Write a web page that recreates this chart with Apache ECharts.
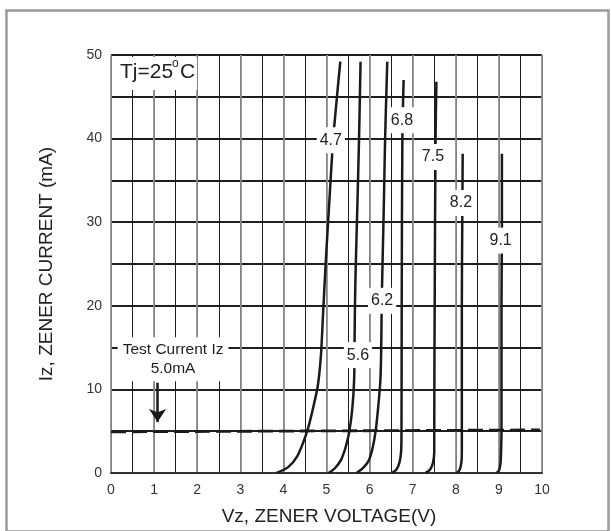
<!DOCTYPE html>
<html>
<head>
<meta charset="utf-8">
<script src="https://cdn.jsdelivr.net/npm/echarts@6/dist/echarts.min.js"></script>
<style>html,body{margin:0;padding:0;background:#fff}#c{width:611px;height:531px}</style>
</head>
<body>
<div id="c"></div>
<script>
// Curves: [Vz (V), Iz (mA)]
const curve47 = [[3.84,0],[4.11,0.7],[4.32,2.0],[4.47,3.8],[4.58,5.5],[4.69,7.8],[4.80,10.5],[4.87,14],[4.92,19],[4.98,25],[5.06,32],[5.13,38],[5.18,41.5],[5.32,49.2]];
const curve56 = [[5.05,0],[5.20,0.6],[5.34,1.6],[5.45,3.2],[5.53,5],[5.60,7.8],[5.64,11],[5.65,15],[5.66,20],[5.68,25],[5.72,32.7],[5.755,40],[5.79,49.2]];
const curve62 = [[5.70,0],[5.85,0.6],[5.98,1.5],[6.07,3.0],[6.14,5],[6.20,7.9],[6.25,11.1],[6.27,15],[6.28,20],[6.30,25],[6.33,32],[6.36,40],[6.41,49.2]];
const curve68 = [[6.51,0],[6.62,0.4],[6.69,1.2],[6.73,2.5],[6.74,5],[6.745,20],[6.76,40],[6.79,47]];
const curve75 = [[7.29,0],[7.40,0.4],[7.47,1.2],[7.50,2.5],[7.50,5],[7.51,20],[7.53,40],[7.55,46.8]];
const curve82 = [[8.02,0],[8.09,0.4],[8.13,1.3],[8.14,2.5],[8.14,5],[8.14,20],[8.15,30],[8.16,38.2]];
const curve91 = [[8.95,0],[9.01,0.4],[9.04,1.3],[9.05,2.5],[9.06,5],[9.06,20],[9.07,30],[9.07,38.2]];
const curves = [curve47, curve56, curve62, curve68, curve75, curve82, curve91];
// Curve labels: [V, I, text]
const curveLabels = [[5.10,39.8,'4.7'],[5.73,14.1,'5.6'],[6.29,20.6,'6.2'],[6.75,42.2,'6.8'],[7.47,37.8,'7.5'],[8.12,32.3,'8.2'],[9.04,27.8,'9.1']];
// Test current line
const testLine = [[0,4.92],[9.95,5.15]];
const arrowFrom = [1.08,10.8];
const arrowTo = [1.08,6.1];
const testLabelPos = [1.44,13.6];
const xTicks = [0,1,2,3,4,5,6,7,8,9,10];
const yTicks = [0,10,20,30,40,50];

const FONT = '"Liberation Sans", Arial, sans-serif';
const chart = echarts.init(document.getElementById('c'), null, {renderer:'canvas'});

const series = curves.map(c => ({
  type:'line', data:c, smooth:0.3, symbol:'none', z:3,
  lineStyle:{color:'#1a1a1a', width:2.5}
}));
series.push({
  type:'line', data:testLine, symbol:'none', z:3,
  lineStyle:{color:'#1a1a1a', width:2.8, type:[15,6]}
});
series.push({
  type:'line', data:[], symbol:'none', z:4,
  markLine:{
    silent:true, symbol:['none','arrow'], symbolSize:[13,13],
    label:{show:false},
    lineStyle:{color:'#1a1a1a', width:2.5, type:'solid'},
    data:[[{coord:arrowFrom},{coord:arrowTo}]]
  }
});
series.push({
  type:'scatter', z:6, symbolSize:1, itemStyle:{opacity:1, color:'#fff'},
  emphasis:{disabled:true},
  data: curveLabels.map(d => ({value:[d[0],d[1]], name:d[2]})),
  label:{show:true, opacity:1, position:'inside', formatter:p=>p.name, color:'#222', fontSize:16, fontFamily:FONT,
    backgroundColor:'#fff', padding:[5,3]}
});
series.push({
  type:'scatter', z:6, symbolSize:1, itemStyle:{opacity:1, color:'#fff'},
  emphasis:{disabled:true},
  data:[{value:testLabelPos, name:'Test Current Iz\n5.0mA'}],
  label:{show:true, opacity:1, position:'inside', formatter:p=>p.name, color:'#222', fontSize:15.5, fontFamily:FONT,
    lineHeight:19, align:'center', backgroundColor:'#fff', padding:[2,5,4,5]}
});

chart.setOption({
  animation:false,
  backgroundColor:'#fff',
  grid:{left:111, top:55, right:69, bottom:58},
  xAxis:[{
    type:'value', min:0, max:10, interval:0.5,
    axisLine:{show:true, lineStyle:{color:'#333', width:2}},
    axisTick:{show:false},
    axisLabel:{interval:0, margin:10, color:'#333', fontSize:14, fontFamily:FONT,
      formatter:v => xTicks.indexOf(v) >= 0 ? String(v) : ''},
    splitLine:{show:true, lineStyle:{color:'#1e1e1e', width:1}}
  },{
    type:'value', min:0, max:10, interval:1, position:'bottom',
    axisLine:{show:false}, axisTick:{show:false}, axisLabel:{show:false},
    splitLine:{show:true, lineStyle:{color:'#8f8f8f', width:1.8}}
  }],
  yAxis:{
    type:'value', min:0, max:50, interval:5,
    axisLine:{show:false}, axisTick:{show:false},
    axisLabel:{margin:9, color:'#333', fontSize:14, fontFamily:FONT,
      formatter:v => yTicks.indexOf(v) >= 0 ? String(v) : ''},
    splitLine:{show:true, lineStyle:{color:'#1e1e1e', width:2}}
  },
  graphic:[
    {type:'rect', left:4, top:8, shape:{width:602, height:521}, style:{fill:'none', stroke:'#9a9a9a', lineWidth:2.5}, z:-10},
    {type:'rect', shape:{x:112, y:57, width:85, height:33}, style:{fill:'#fff'}, z:50},
    {type:'text', x:120, y:62, style:{text:'Tj=25', font:'21px '+FONT, fill:'#222'}, z:51},
    {type:'text', x:172, y:58, style:{text:'o', font:'12px '+FONT, fill:'#222'}, z:51},
    {type:'text', x:180, y:62, style:{text:'C', font:'21px '+FONT, fill:'#222'}, z:51},
    {type:'text', x:329, y:517, style:{text:'Vz, ZENER VOLTAGE(V)', font:'19px '+FONT, fill:'#222', align:'center', verticalAlign:'middle'}, z:51},
    {type:'text', x:47, y:264, rotation:Math.PI/2, style:{text:'Iz, ZENER CURRENT (mA)', font:'19px '+FONT, fill:'#222', align:'center', verticalAlign:'middle'}, z:51}
  ],
  series:series
});
</script>
</body>
</html>
